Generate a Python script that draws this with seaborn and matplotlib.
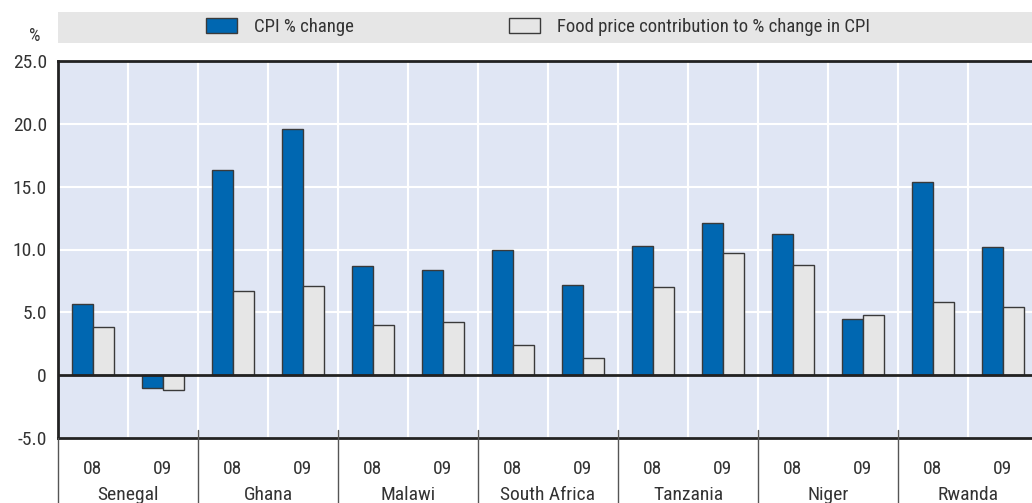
import matplotlib
matplotlib.use("Agg")
import matplotlib.pyplot as plt
import matplotlib.transforms as mtransforms
from matplotlib.patches import Rectangle
import seaborn as sns
import pandas as pd

countries = ["Senegal", "Ghana", "Malawi", "South Africa", "Tanzania", "Niger", "Rwanda"]
years = ["08", "09"]
cpi = [5.7, -1.0, 16.3, 19.6, 8.7, 8.4, 10.0, 7.2, 10.3, 12.1, 11.2, 4.5, 15.4, 10.2]
food = [3.8, -1.2, 6.7, 7.1, 4.0, 4.2, 2.4, 1.4, 7.0, 9.7, 8.8, 4.8, 5.8, 5.4]
series = ["CPI % change", "Food price contribution to % change in CPI"]
yticks = [-5, 0, 5, 10, 15, 20, 25]
ytick_labels = ["-5.0", "0", "5.0", "10.0", "15.0", "20.0", "25.0"]

cats = [f"{c} {y}" for c in countries for y in years]
df = pd.DataFrame({
    "cat": cats * 2,
    "value": cpi + food,
    "series": [series[0]] * len(cats) + [series[1]] * len(cats),
})

sns.set_theme(style="white")
plt.rcParams["font.family"] = ["Liberation Sans Narrow", "Roboto Condensed", "DejaVu Sans"]
plt.rcParams["text.color"] = "#333333"

BLUE = "#0067b1"
GREY = "#e6e6e6"
BG = "#e0e6f4"

fig = plt.figure(figsize=(10.32, 5.03), dpi=100)

# legend band (behind everything)
fig.patches.append(Rectangle((58 / 1032, (503 - 43) / 503), 1 - 58 / 1032, 31 / 503,
                             transform=fig.transFigure, facecolor="#e6e6e6",
                             edgecolor="none", zorder=-5))

ax = fig.add_axes([58 / 1032, 65 / 503, 980 / 1032, 377 / 503])
ax.set_facecolor(BG)

sns.barplot(data=df, x="cat", y="value", hue="series", order=cats, hue_order=series,
            palette=[BLUE, GREY], saturation=1, width=0.6, edgecolor="#3a3a3a",
            linewidth=1.0, errorbar=None, ax=ax, zorder=3)

ax.set_xlim(-0.5, len(cats) - 0.5)
ax.set_ylim(-5, 25)
ax.set_yticks(yticks)
ax.set_yticklabels(ytick_labels, fontsize=14, color="#333333")
ax.tick_params(axis="y", direction="in", length=7, color="#888888", width=1, pad=8)
ax.set_xlabel("")
ax.set_ylabel("")

# x ticks: years
ax.set_xticks(range(len(cats)))
ax.set_xticklabels([y for c in countries for y in years], fontsize=14, color="#333333")
ax.tick_params(axis="x", which="major", length=0, pad=16)
ax.set_xticks([i + 0.5 for i in range(len(cats) - 1)], minor=True)
ax.tick_params(axis="x", which="minor", direction="in", length=7, color="#888888", width=1)

ax.grid(True, axis="y", color="white", lw=1.5, zorder=0)
ax.grid(True, axis="x", which="minor", color="white", lw=1.5, zorder=0)
ax.set_axisbelow(True)
ax.axhline(0, color="#222222", lw=2, zorder=4)

for s in ["left", "bottom", "top", "right"]:
    ax.spines[s].set_color("#222222")
    ax.spines[s].set_linewidth(2)

trans = mtransforms.blended_transform_factory(ax.transData, ax.transAxes)
for k in range(len(countries) + 1):
    b = 2 * k - 0.5
    ax.plot([b, b], [0.02 if 0 < k < len(countries) else 0, -0.2], transform=trans,
            color="#555555", lw=1, clip_on=False, zorder=5)
for k, c in enumerate(countries):
    ax.text(2 * k + 0.5, -0.15, c, transform=trans, ha="center", va="center",
            fontsize=14, color="#333333")

handles, labels = ax.get_legend_handles_labels()
leg = ax.legend(handles, labels, loc="center left",
                bbox_to_anchor=(206 / 1032, (503 - 27) / 503),
                bbox_transform=fig.transFigure, ncol=2, frameon=False, fontsize=13.5,
                handlelength=1.65, handleheight=0.9, handletextpad=0.9, columnspacing=8.3,
                borderaxespad=0, borderpad=0)

fig.text(35 / 1032, (503 - 36) / 503, "%", ha="center", va="center", fontsize=13, color="#333333")

fig.savefig("out.png", dpi=100)
